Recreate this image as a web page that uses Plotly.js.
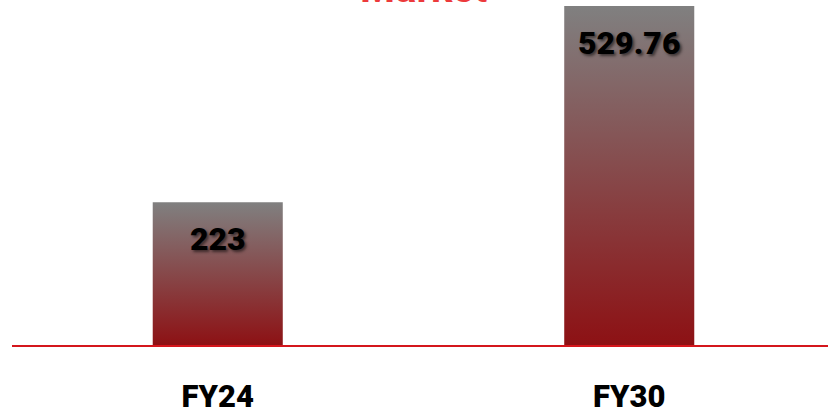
<!DOCTYPE html>
<html>
<head>
<meta charset="utf-8">
<script src="https://cdn.plot.ly/plotly-3.0.1.min.js"></script>
<style>
html,body{margin:0;padding:0;background:#fff;}
#chart{width:828px;height:412px;}
</style>
</head>
<body>
<div id="chart"></div>
<script>
const categories = ["FY24", "FY30"];
const values = [223, 529.76];
const valueLabels = ["223", "529.76"];
const titleText = "Market";

const xIdx = categories.map((c, i) => i);

const trace = {
  type: "bar",
  x: xIdx,
  y: values,
  width: 0.316,
  marker: { color: "#8a3a3c", line: { width: 0 } },
  textposition: "none",
  hoverinfo: "skip"
};

const annotations = xIdx.map((x, i) => ({
  x: x, y: values[i], xref: "x", yref: "y",
  text: valueLabels[i],
  showarrow: false,
  yanchor: "middle",
  yshift: -37,
  font: { family: "Roboto, Liberation Sans, sans-serif", size: 32, weight: 900, color: "#000",
          shadow: "2px 2px 3px rgba(0,0,0,0.55)" }
}));

annotations.push({
  xref: "paper", yref: "paper",
  x: 0.504, y: 1.0,
  yanchor: "middle",
  yshift: 12,
  text: titleText,
  showarrow: false,
  font: { family: "Roboto, Liberation Sans, sans-serif", size: 40, weight: 700, color: "#ec3a3c" }
});

const layout = {
  width: 828, height: 412,
  margin: { l: 12, r: 0, t: 0, b: 67, pad: 0 },
  paper_bgcolor: "#fff",
  plot_bgcolor: "#fff",
  showlegend: false,
  xaxis: {
    type: "linear",
    range: [-0.5, 1.483],
    tickvals: xIdx,
    ticktext: categories,
    showgrid: false, zeroline: false,
    showline: true, linecolor: "#d4161c", linewidth: 2,
    ticks: "",
    ticklabelstandoff: 23,
    tickfont: { family: "Roboto, Liberation Sans, sans-serif", size: 31, weight: 900, color: "#000" },
    fixedrange: true
  },
  yaxis: {
    range: [0, 539],
    showgrid: false, zeroline: false, showline: false,
    showticklabels: false, ticks: "",
    fixedrange: true
  },
  annotations: annotations
};

Plotly.newPlot("chart", [trace], layout, { displayModeBar: false, staticPlot: true }).then(gd => {
  const svg = gd.querySelector("svg.main-svg");
  const ns = "http://www.w3.org/2000/svg";
  let defs = svg.querySelector("defs");
  if (!defs) { defs = document.createElementNS(ns, "defs"); svg.insertBefore(defs, svg.firstChild); }
  const grad = document.createElementNS(ns, "linearGradient");
  grad.setAttribute("id", "barGrad");
  grad.setAttribute("x1", "0"); grad.setAttribute("y1", "0");
  grad.setAttribute("x2", "0"); grad.setAttribute("y2", "1");
  [["0", "#808080"], ["1", "#8d1114"]].forEach(([o, c]) => {
    const s = document.createElementNS(ns, "stop");
    s.setAttribute("offset", o); s.setAttribute("stop-color", c);
    grad.appendChild(s);
  });
  defs.appendChild(grad);
  gd.querySelectorAll(".barlayer .point path").forEach(p => { p.style.fill = "url(#barGrad)"; });
});
</script>
</body>
</html>
